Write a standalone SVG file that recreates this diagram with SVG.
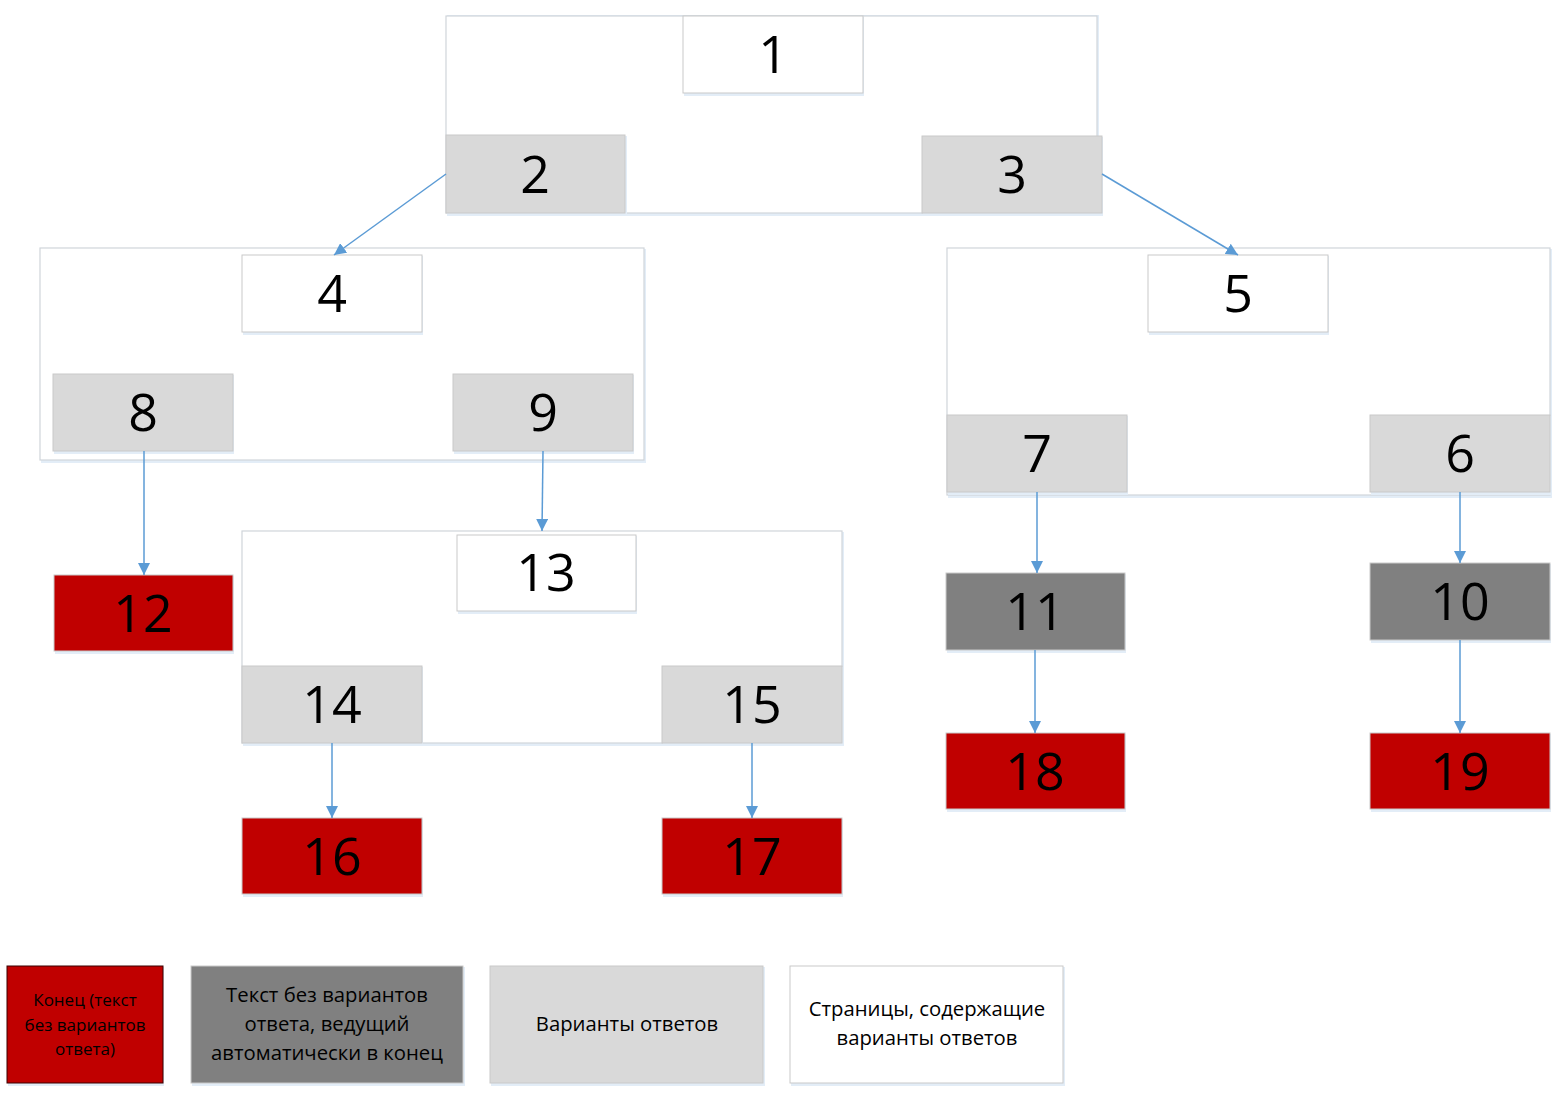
<svg xmlns="http://www.w3.org/2000/svg" width="1558" height="1094" viewBox="0 0 1558 1094">
<style>
.box{stroke:#c9c9c9;stroke-width:1}
.cont{fill:#fff;stroke:#d0d5da;stroke-width:1.2}
.white{fill:#fff}
.opt{fill:#d9d9d9}
.dark{fill:#808080}
.end{fill:#c00000}
.num{font-family:"Open Sans","Liberation Sans",sans-serif;font-size:52px;fill:#000;text-anchor:middle}
.leg{font-family:"Open Sans","Liberation Sans",sans-serif;font-size:20.3px;fill:#000;text-anchor:middle}
.conn line{stroke:#5b9bd5;stroke-width:1.5;marker-end:url(#ah)}
.sh{fill:#e3edf7}
</style>
<defs>
<marker id="ah" viewBox="0 0 12 12" refX="12" refY="6" markerWidth="12" markerHeight="12" markerUnits="userSpaceOnUse" orient="auto">
<path d="M0,0 L12,6 L0,12 z" fill="#5b9bd5"/>
</marker>
</defs>
<rect width="1558" height="1094" fill="#fff"/>

<g id="containers">
<rect class="sh" x="447" y="15" width="652" height="201"/>
<rect class="cont" x="446" y="16" width="651" height="197"/>
<rect class="sh" x="41" y="249" width="605" height="214"/>
<rect class="cont" x="40" y="248" width="604" height="212"/>
<rect class="sh" x="948" y="249" width="604" height="249"/>
<rect class="cont" x="947" y="248" width="603" height="247"/>
<rect class="sh" x="243" y="532" width="601" height="214"/>
<rect class="cont" x="242" y="531" width="600" height="212"/>
</g>

<g id="n1"><rect class="sh" x="684" y="17" width="180" height="79"/><rect class="box white" x="683" y="16" width="180" height="77"/><text class="num" x="773" y="73">1</text></g>
<g id="n2"><rect class="sh" x="447" y="136" width="180" height="80"/><rect class="box opt" x="446" y="135" width="179" height="78"/><text class="num" x="535" y="193">2</text></g>
<g id="n3"><rect class="sh" x="923" y="137" width="180" height="79"/><rect class="box opt" x="922" y="136" width="180" height="77"/><text class="num" x="1012" y="193">3</text></g>
<g id="n4"><rect class="sh" x="243" y="256" width="180" height="79"/><rect class="box white" x="242" y="255" width="180" height="77"/><text class="num" x="332" y="312">4</text></g>
<g id="n5"><rect class="sh" x="1149" y="256" width="180" height="79"/><rect class="box white" x="1148" y="255" width="180" height="77"/><text class="num" x="1238" y="312">5</text></g>
<g id="n8"><rect class="sh" x="54" y="375" width="180" height="79"/><rect class="box opt" x="53" y="374" width="180" height="77"/><text class="num" x="143" y="431">8</text></g>
<g id="n9"><rect class="sh" x="454" y="375" width="180" height="79"/><rect class="box opt" x="453" y="374" width="180" height="77"/><text class="num" x="543" y="431">9</text></g>
<g id="n7"><rect class="sh" x="948" y="416" width="180" height="79"/><rect class="box opt" x="947" y="415" width="180" height="77"/><text class="num" x="1037" y="472">7</text></g>
<g id="n6"><rect class="sh" x="1371" y="416" width="180" height="79"/><rect class="box opt" x="1370" y="415" width="180" height="77"/><text class="num" x="1460" y="472">6</text></g>
<g id="n13"><rect class="sh" x="458" y="536" width="179" height="78"/><rect class="box white" x="457" y="535" width="179" height="76"/><text class="num" x="546" y="591">13</text></g>
<g id="n14"><rect class="sh" x="243" y="667" width="180" height="79"/><rect class="box opt" x="242" y="666" width="180" height="77"/><text class="num" x="332" y="723">14</text></g>
<g id="n15"><rect class="sh" x="663" y="667" width="180" height="79"/><rect class="box opt" x="662" y="666" width="180" height="77"/><text class="num" x="752" y="723">15</text></g>
<g id="n12"><rect class="sh" x="55" y="576" width="179" height="78"/><rect class="box end" x="54" y="575" width="179" height="76"/><text class="num" x="143" y="632">12</text></g>
<g id="n16"><rect class="sh" x="243" y="819" width="180" height="78"/><rect class="box end" x="242" y="818" width="180" height="76"/><text class="num" x="332" y="875">16</text></g>
<g id="n17"><rect class="sh" x="663" y="819" width="180" height="78"/><rect class="box end" x="662" y="818" width="180" height="76"/><text class="num" x="752" y="875">17</text></g>
<g id="n11"><rect class="sh" x="947" y="574" width="179" height="79"/><rect class="box dark" x="946" y="573" width="179" height="77"/><text class="num" x="1035" y="630">11</text></g>
<g id="n18"><rect class="sh" x="947" y="734" width="179" height="78"/><rect class="box end" x="946" y="733" width="179" height="76"/><text class="num" x="1035" y="790">18</text></g>
<g id="n10"><rect class="sh" x="1371" y="564" width="180" height="79"/><rect class="box dark" x="1370" y="563" width="180" height="77"/><text class="num" x="1460" y="620">10</text></g>
<g id="n19"><rect class="sh" x="1371" y="734" width="180" height="78"/><rect class="box end" x="1370" y="733" width="180" height="76"/><text class="num" x="1460" y="790">19</text></g>

<g id="connectors" class="conn">
<line x1="446" y1="174" x2="334" y2="255"/>
<line x1="1102" y1="174" x2="1238" y2="255"/>
<line x1="144" y1="451" x2="144" y2="575"/>
<line x1="543" y1="451" x2="542" y2="531"/>
<line x1="1037" y1="492" x2="1037" y2="573"/>
<line x1="1460" y1="492" x2="1460" y2="563"/>
<line x1="1035" y1="650" x2="1035" y2="733"/>
<line x1="1460" y1="640" x2="1460" y2="733"/>
<line x1="332" y1="743" x2="332" y2="818"/>
<line x1="752" y1="743" x2="752" y2="818"/>
</g>

<g id="legend-end"><rect class="sh" x="8" y="967" width="156" height="119"/><rect x="7" y="966" width="156" height="117" fill="#c00000" stroke="#3a0000" stroke-width="1"/>
<text class="leg" x="85" style="font-size:17px"><tspan x="85" y="1006">Конец (текст</tspan><tspan x="85" y="1031">без вариантов</tspan><tspan x="85" y="1055">ответа)</tspan></text></g>
<g id="legend-auto"><rect class="sh" x="192" y="967" width="273" height="119"/><rect class="box dark" x="191" y="966" width="272" height="117"/>
<text class="leg"><tspan x="327" y="1002">Текст без вариантов</tspan><tspan x="327" y="1031">ответа, ведущий</tspan><tspan x="327" y="1060">автоматически в конец</tspan></text></g>
<g id="legend-opt"><rect class="sh" x="491" y="967" width="274" height="119"/><rect class="box opt" x="490" y="966" width="273" height="117"/>
<text class="leg" x="627" y="1031">Варианты ответов</text></g>
<g id="legend-page"><rect class="sh" x="791" y="967" width="274" height="119"/><rect class="box white" x="790" y="966" width="273" height="117"/>
<text class="leg"><tspan x="927" y="1016">Страницы, содержащие</tspan><tspan x="927" y="1045">варианты ответов</tspan></text></g>
</svg>
